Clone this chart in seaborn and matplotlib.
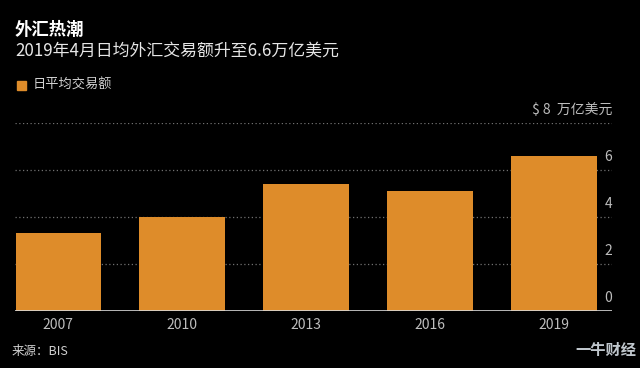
import matplotlib
matplotlib.use("Agg")
import matplotlib.pyplot as plt
import seaborn as sns
import pandas as pd
import matplotlib.transforms as mtrans

years = ["2007", "2010", "2013", "2016", "2019"]
values = [3.3, 4.0, 5.4, 5.1, 6.6]
yticks = [0, 2, 4, 6, 8]
title = "外汇热潮"
subtitle = "2019年4月日均外汇交易额升至6.6万亿美元"
legend_label = "日平均交易额"
unit_label = "$ 8  万亿美元"
source = "来源：BIS"

sns.set_theme(style="dark")
plt.rcParams['font.family'] = ['Noto Sans CJK SC', 'DejaVu Sans']

BG = "#000000"
ORANGE = "#DE8C2A"
GRAY = "#BDBDBD"

fig = plt.figure(figsize=(6.4, 3.68), dpi=100, facecolor=BG)
ax = fig.add_axes([0.0234, 0.155, 0.933, 0.511])
ax.set_facecolor(BG)

df = pd.DataFrame({"year": years, "value": values})
sns.barplot(data=df, x="year", y="value", color=ORANGE, saturation=1,
            width=0.69, ax=ax, zorder=3, linewidth=0, edgecolor="none")

ax.set_xlim(-0.35, 4.47)
ax.set_ylim(0, 8)
ax.set_xlabel("")
ax.set_ylabel("")
for s in ax.spines.values():
    s.set_visible(False)

ax.set_yticks(yticks)
ax.set_yticklabels([])
ax.tick_params(axis="y", length=0)
ax.tick_params(axis="x", length=0, colors=GRAY, labelsize=10, pad=5)
for lab in ax.get_xticklabels():
    lab.set_color(GRAY)

for y in yticks:
    if y == 0:
        ax.axhline(0, color="#d8d8d8", lw=1.2, zorder=4)
    else:
        ax.axhline(y, color="#707070", lw=0.9, ls=(0, (1, 2)), zorder=1)

trans = mtrans.blended_transform_factory(ax.transAxes, ax.transData)
for y in yticks[:-1]:
    ax.text(1.0, y + 0.25, str(y), transform=trans, ha="right", va="bottom",
            color=GRAY, fontsize=10)
ax.text(1.0, 8 + 0.25, unit_label, transform=trans, ha="right", va="bottom",
        color=GRAY, fontsize=10)

fig.text(15/640, 1 - 30/368, title, color="white", fontsize=12.5,
         fontweight="bold", va="center", ha="left")
fig.text(15/640, 1 - 52/368, subtitle, color="#e6e6e6", fontsize=12.2,
         va="center", ha="left")
fig.patches.append(plt.Rectangle((17/640, 1 - 90/368), 9/640, 9/368,
                                 transform=fig.transFigure, color=ORANGE))
fig.text(33/640, 1 - 85/368, legend_label, color="#d0d0d0", fontsize=9.5,
         va="center", ha="left")
fig.text(12/640, 1 - 352/368, source, color="#d0d0d0", fontsize=9,
         va="center", ha="left")
fig.text(636/640, 1 - 350/368, "一牛财经", color="#bfc6cc", fontsize=11,
         fontweight="bold", va="center", ha="right")

fig.savefig("out.png", dpi=100, facecolor=BG)
